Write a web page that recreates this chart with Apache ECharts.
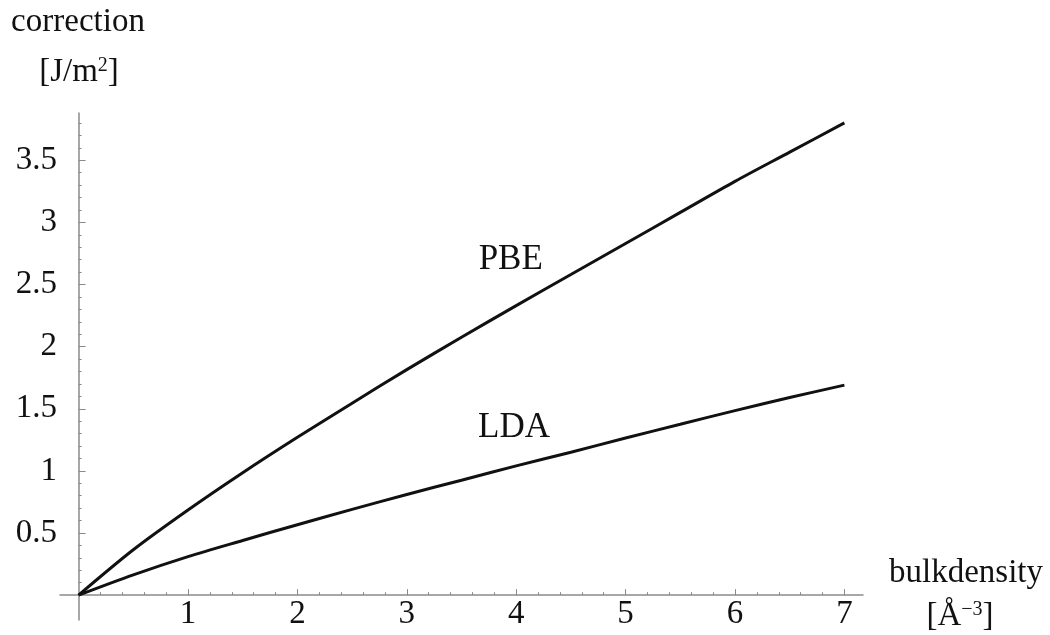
<!DOCTYPE html>
<html><head><meta charset="utf-8">
<script src="https://cdn.jsdelivr.net/npm/echarts@6/dist/echarts.min.js"></script>
<style>html,body{margin:0;padding:0;background:#fff}#c{width:1050px;height:635px}</style>
</head><body><div id="c"></div>
<script>
const xValues = [0, 0.5, 1, 1.5, 2, 2.5, 3, 3.5, 4, 4.5, 5, 5.5, 6, 6.5, 7];
const pbeValues = [0, 0.365, 0.685, 0.985, 1.27, 1.545, 1.815, 2.075, 2.33, 2.58, 2.83, 3.08, 3.33, 3.565, 3.80];
const ldaValues = [0, 0.163, 0.31, 0.44, 0.567, 0.69, 0.81, 0.925, 1.04, 1.15, 1.265, 1.375, 1.485, 1.59, 1.69];
const xTickLabels = [1, 2, 3, 4, 5, 6, 7];
const yTickLabels = [0.5, 1, 1.5, 2, 2.5, 3, 3.5];
const xMinorTicks = [];
for (let i = 1; i <= 35; i++) { if (i % 5) xMinorTicks.push(i / 5); }
const yMinorTicks = [];
for (let i = 1; i <= 38; i++) { if (i % 5) yMinorTicks.push(i / 10); }

const serif = 'Liberation Serif, DejaVu Serif, serif';
const axisColor = '#8a8a8a';
const chart = echarts.init(document.getElementById('c'));
const pair = (xs, ys) => xs.map((x, i) => [x, ys[i]]);
const sup = { s: { fontSize: 20, verticalAlign: 'top', lineHeight: 20, fontFamily: serif, padding: [0, 0, 12, 0] } };

chart.setOption({
  animation: false,
  grid: { left: 60, right: 187, top: 113, bottom: 15, containLabel: false, outerBoundsMode: 'none' },
  xAxis: [{
    type: 'value', min: -0.17, max: 7.17,
    axisLine: { show: true, onZero: true, lineStyle: { color: axisColor, width: 1.5 } },
    axisTick: { show: true, inside: true, length: 6, customValues: xTickLabels, lineStyle: { color: axisColor } },
    axisLabel: { show: true, customValues: xTickLabels, fontFamily: serif, fontSize: 33, color: '#111', margin: -22 },
    splitLine: { show: false }
  }, {
    type: 'value', min: -0.17, max: 7.17, position: 'bottom',
    axisLine: { show: false, onZero: true, onZeroAxisIndex: 0 },
    axisTick: { show: true, inside: true, length: 3, customValues: xMinorTicks, lineStyle: { color: axisColor } },
    axisLabel: { show: false },
    splitLine: { show: false }
  }],
  yAxis: [{
    type: 'value', min: -0.2, max: 3.88,
    axisLine: { show: true, onZero: true, lineStyle: { color: axisColor, width: 1.5 } },
    axisTick: { show: true, inside: true, length: 7, customValues: yTickLabels, lineStyle: { color: axisColor } },
    axisLabel: { show: true, customValues: yTickLabels, fontFamily: serif, fontSize: 33, color: '#111', margin: 3 },
    splitLine: { show: false }
  }, {
    type: 'value', min: -0.2, max: 3.88, position: 'left',
    axisLine: { show: false, onZero: true, onZeroAxisIndex: 0 },
    axisTick: { show: true, inside: true, length: 3, customValues: yMinorTicks, lineStyle: { color: axisColor } },
    axisLabel: { show: false },
    splitLine: { show: false }
  }],
  series: [{
    name: 'PBE', type: 'line', smooth: 0.3, showSymbol: false,
    data: pair(xValues, pbeValues),
    lineStyle: { color: '#111', width: 3 },
    markPoint: {
      symbol: 'circle', symbolSize: 0,
      label: { show: true, formatter: 'PBE', fontFamily: serif, fontSize: 35, color: '#111' },
      data: [{ coord: [3.95, 2.70] }]
    }
  }, {
    name: 'LDA', type: 'line', smooth: 0.3, showSymbol: false,
    data: pair(xValues, ldaValues),
    lineStyle: { color: '#111', width: 3 },
    markPoint: {
      symbol: 'circle', symbolSize: 0,
      label: { show: true, formatter: 'LDA', fontFamily: serif, fontSize: 35, color: '#111' },
      data: [{ coord: [3.98, 1.35] }]
    }
  }],
  graphic: [
    { type: 'text', x: 78, y: 22, style: { text: 'correction', font: '33px ' + serif, fill: '#111', align: 'center', verticalAlign: 'middle' } },
    { type: 'text', x: 79, y: 72, style: { text: '[J/m{s|2}]', font: '33px ' + serif, fill: '#111', align: 'center', verticalAlign: 'middle', rich: sup } },
    { type: 'text', x: 966, y: 573, style: { text: 'bulkdensity', font: '33px ' + serif, fill: '#111', align: 'center', verticalAlign: 'middle' } },
    { type: 'text', x: 960, y: 616, style: { text: '[Å{s|−3}]', font: '33px ' + serif, fill: '#111', align: 'center', verticalAlign: 'middle', rich: sup } }
  ]
});
</script></body></html>
